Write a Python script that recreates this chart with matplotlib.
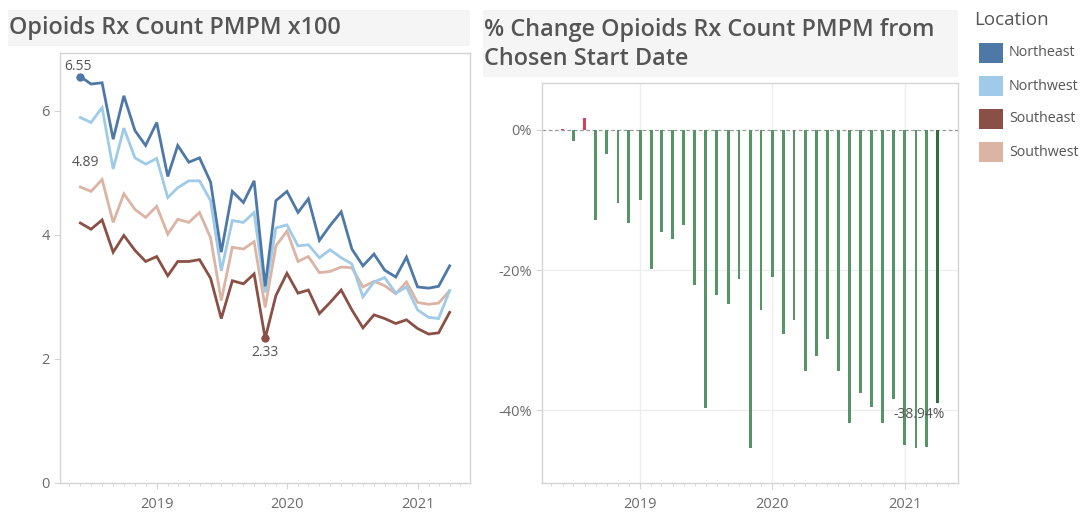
import numpy as np
import pandas as pd
import matplotlib
matplotlib.use("Agg")
import matplotlib.pyplot as plt
import matplotlib.dates as mdates
from matplotlib.patches import Rectangle

plt.rcParams['font.family'] = ['Open Sans', 'DejaVu Sans']

# monthly series, Jun 2018 - Apr 2021
months = pd.date_range('2018-06-01', periods=35, freq='MS')

northeast = [6.55, 6.43, 6.45, 5.54, 6.24, 5.68, 5.44, 5.81, 4.94, 5.44,
             5.17, 5.24, 4.85, 3.72, 4.70, 4.52, 4.87, 3.17, 4.55, 4.70,
             4.36, 4.58, 3.91, 4.15, 4.37, 3.77, 3.50, 3.69, 3.43, 3.32,
             3.64, 3.16, 3.14, 3.17, 3.50]
northwest = [5.89, 5.81, 6.05, 5.06, 5.72, 5.24, 5.14, 5.23, 4.60, 4.76,
             4.87, 4.87, 4.55, 3.42, 4.23, 4.20, 4.36, 3.07, 4.11, 4.16,
             3.82, 3.84, 3.63, 3.76, 3.63, 3.53, 3.00, 3.24, 3.31, 3.06,
             3.16, 2.79, 2.67, 2.65, 3.10]
southeast = [4.19, 4.09, 4.24, 3.72, 3.99, 3.75, 3.57, 3.65, 3.34, 3.57,
             3.57, 3.60, 3.30, 2.65, 3.26, 3.21, 3.37, 2.33, 3.02, 3.38,
             3.06, 3.11, 2.73, 2.91, 3.11, 2.79, 2.50, 2.71, 2.65, 2.57,
             2.63, 2.49, 2.40, 2.42, 2.75]
southwest = [4.77, 4.70, 4.89, 4.20, 4.66, 4.41, 4.28, 4.46, 4.01, 4.25,
             4.20, 4.36, 3.95, 2.94, 3.80, 3.77, 3.89, 2.83, 3.82, 4.06,
             3.57, 3.65, 3.39, 3.41, 3.48, 3.47, 3.16, 3.25, 3.18, 3.05,
             3.24, 2.91, 2.88, 2.90, 3.10]

pct_change = [0.0, -1.6, 1.7, -12.9, -3.5, -10.4, -13.3, -10.0, -19.9, -14.5,
              -15.5, -13.6, -22.1, -39.7, -23.5, -24.8, -21.3, -45.4, -25.7, -21.0,
              -29.1, -27.1, -34.4, -32.2, -29.8, -34.4, -41.9, -37.5, -39.6, -41.9,
              -38.4, -45.0, -45.4, -45.2, -38.94]

locations = ['Northeast', 'Northwest', 'Southeast', 'Southwest']
colors = ['#4e79a7', '#9fcbe8', '#8b5045', '#dbb4a4']

TEXT = '#555555'
TICK = '#6b6b6b'
FRAME = '#d4d4d4'

xmin = pd.Timestamp('2018-04-05')
xmax = pd.Timestamp('2021-05-28')
years = [pd.Timestamp(f'{y}-01-01') for y in (2019, 2020, 2021)]

fig = plt.figure(figsize=(10.83, 5.15), dpi=100)


def px(x, y):
    """Pixel position (from top-left) to figure fraction."""
    return x / 1083, 1 - y / 515


def style_axes(ax):
    for s in ax.spines.values():
        s.set_color(FRAME)
        s.set_linewidth(1.0)
    ax.set_xlim(xmin, xmax)
    ax.set_xticks(years)
    ax.xaxis.set_major_formatter(mdates.DateFormatter('%Y'))
    ax.xaxis.set_minor_locator(mdates.MonthLocator())
    ax.tick_params(axis='x', which='major', length=4, color=FRAME, labelcolor=TICK,
                   labelsize=10.5, pad=6)
    ax.tick_params(axis='x', which='minor', length=2, color=FRAME)
    ax.tick_params(axis='y', length=4, color=FRAME, labelcolor=TICK, labelsize=10.5)


def title_box(x0, y0, x1, y1, lines, ys):
    fig.patches.append(Rectangle(px(x0, y1), (x1 - x0) / 1083, (y1 - y0) / 515,
                                 transform=fig.transFigure, facecolor='#f5f5f5',
                                 edgecolor='none', zorder=0))
    for line, y in zip(lines, ys):
        fig.text(*px(x0 + 1, y), line, ha='left', va='center', fontsize=16.8,
                 fontweight='semibold', color=TEXT)


# left: counts per location
ax1 = fig.add_axes([60 / 1083, 32 / 515, 410 / 1083, 430 / 515])
series = [northeast, northwest, southeast, southwest]
order = [3, 1, 2, 0]
for i in order:
    ax1.plot(months, series[i], color=colors[i], lw=2.0, solid_joinstyle='miter',
             zorder=3 + (i == 0))
ax1.set_ylim(0, 6.93)
ax1.set_yticks([0, 2, 4, 6])
style_axes(ax1)

ax1.plot(months[0], northeast[0], 'o', color=colors[0], ms=5, zorder=5)
ax1.annotate(f'{northeast[0]:.2f}', (months[0], northeast[0]), xytext=(-2, 2),
             textcoords='offset points', ha='center', va='bottom', fontsize=10,
             color=TEXT, zorder=6)
ax1.annotate(f'{southwest[2]:.2f}', (months[2], southwest[2]), xytext=(-12, 7),
             textcoords='offset points', ha='center', va='bottom', fontsize=10,
             color=TEXT)
ax1.plot(months[17], southeast[17], 'o', color=colors[2], ms=5, zorder=5)
ax1.annotate(f'{southeast[17]:.2f}', (months[17], southeast[17]), xytext=(0, -5),
             textcoords='offset points', ha='center', va='top', fontsize=10,
             color=TEXT)

# right: % change from start month
ax2 = fig.add_axes([542 / 1083, 32 / 515, 416 / 1083, 400 / 515])
ax2.set_ylim(-50.4, 6.7)
ax2.set_yticks([0, -20, -40])
ax2.set_yticklabels(['0%', '-20%', '-40%'])
for y in (-20, -40):
    ax2.axhline(y, color='#eeeeee', lw=1.0, zorder=0)
for d in years:
    ax2.axvline(d, color='#eeeeee', lw=1.0, zorder=0)
ax2.axhline(0, color='#9a9a9a', lw=0.9, ls=(0, (3, 2)), zorder=1)

bar_colors = ['#d6405e' if v >= 0 else '#559566' for v in pct_change]
bar_colors[-1] = '#2f6e40'
heights = [v if v != 0 else 0.15 for v in pct_change]
ax2.bar(months, heights, width=8, color=bar_colors, zorder=2)
ax2.annotate(f'{pct_change[-1]:.2f}%', (months[-1], pct_change[-1]), xytext=(-13, -3),
             textcoords='offset points', ha='center', va='top', fontsize=10,
             color=TEXT, zorder=4)
style_axes(ax2)

title_box(8, 10, 470, 46, ['Opioids Rx Count PMPM x100'], [28])
title_box(483, 10, 958, 77, ['% Change Opioids Rx Count PMPM from',
                              'Chosen Start Date'], [30, 59])

# legend
fig.text(*px(974, 20), 'Location', ha='left', va='center', fontsize=13.5, color=TEXT)
for k, (name, c) in enumerate(zip(locations, colors)):
    yc = 53 + 33 * k
    fig.patches.append(Rectangle(px(979, yc + 10), 24 / 1083, 20 / 515,
                                 transform=fig.transFigure, facecolor=c,
                                 edgecolor='none'))
    fig.text(*px(1009, yc), name, ha='left', va='center', fontsize=10.3, color=TEXT)

fig.savefig('out.png', dpi=100)
